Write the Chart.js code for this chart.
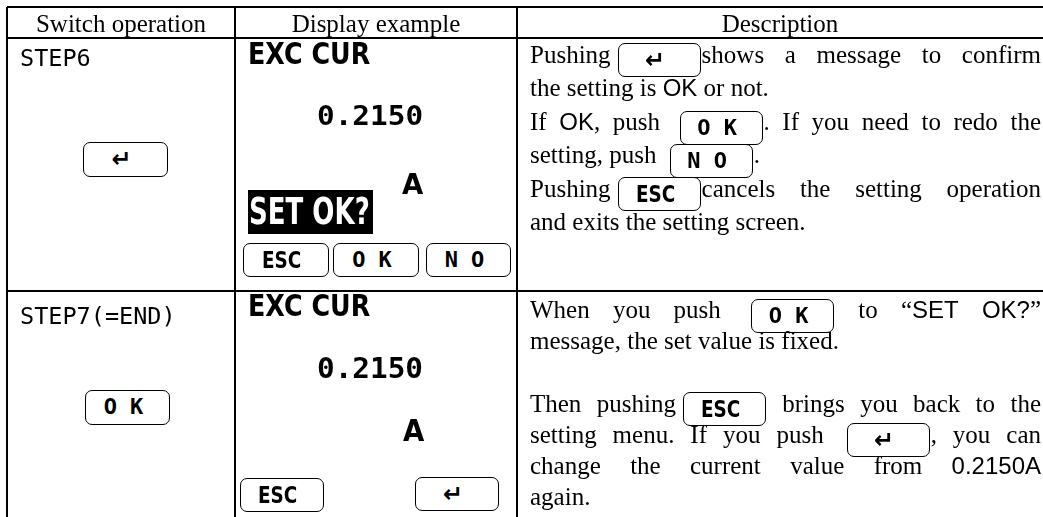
<!DOCTYPE html>
<html>
<head>
<meta charset="utf-8">
<script src="https://cdn.jsdelivr.net/npm/chart.js@4.4.0/dist/chart.umd.min.js"></script>
<style>
html, body { margin: 0; padding: 0; background: #fff; }
#wrap { position: relative; width: 1043px; height: 517px; overflow: hidden; }
#grid { position: absolute; left: 0; top: 0; }
.t { position: absolute; white-space: nowrap; color: #000; }
.hd { top: 7px; line-height: 33px; text-align: center; font-family: "Liberation Serif", "Times New Roman", serif; font-size: 25px; }
.step { font-family: "DejaVu Sans Mono", monospace; font-size: 23.5px; line-height: 1; }
.disp { font-family: "DejaVu Sans", "Liberation Sans", sans-serif; font-weight: bold; line-height: 1; transform-origin: 0 0; }
.disp.mono { font-family: "DejaVu Sans Mono", monospace; }
.band { position: absolute; background: #000; }
.key { position: absolute; box-sizing: border-box; border: 1.6px solid #000; border-radius: 7px; background: #fff;
       text-align: center; padding-right: 8px; line-height: 32px; font-size: 0; }
.lbl { display: inline-block; font-family: "DejaVu Sans", sans-serif; font-weight: bold; font-size: 23px;
       line-height: 32px; transform: scaleX(.8); }
.lbl.mono { font-family: "DejaVu Sans Mono", monospace; transform: none; font-size: 22px; }
.lbl.arrow { transform: none; font-size: 24px; }
.desc { position: absolute; left: 530px; width: 511px; height: 33px; font-family: "Liberation Serif", "Times New Roman", serif;
        font-size: 25px; line-height: 33px; color: #000; }
.desc.just { text-align: justify; text-align-last: justify; }
.ikey { display: inline-block; box-sizing: border-box; width: 83px; height: 34px; border: 1.6px solid #000; border-radius: 7px;
        text-align: center; text-align-last: center; padding-right: 8px; line-height: 32px; vertical-align: -5px;
        margin: -8px 1px -8px 7px; font-size: 0; }
.sans { font-family: "Liberation Sans", Arial, sans-serif; font-size: 24px; }
</style>
</head>
<body>
<div id="wrap">
<canvas id="grid" width="1043" height="517"></canvas>
</div>
<script>
const headers = ["Switch operation", "Display example", "Description"];
const steps = ["STEP6", "STEP7(=END)"];
const switchKeys = ["↵", "O K"];
const displayTitle = "EXC CUR";
const displayValue = "0.2150";
const displayUnit = "A";
const confirmText = "SET OK?";
const softKeys = [["ESC", "O K", "N O"], ["ESC", "↵"]];
// [..] is a key picture, {..} is sans text
const descStep6 = [
  "Pushing[↵]shows a message to confirm",
  "the setting is {OK} or not.",
  "If {OK}, push [O K]. If you need to redo the",
  "setting, push [N O].",
  "Pushing[ESC]cancels the setting operation",
  "and exits the setting screen."
];
const descStep7 = [
  "When you push [O K] to “{SET OK?}”",
  "message, the set value is fixed.",
  "",
  "Then pushing[ESC] brings you back to the",
  "setting menu. If you push [↵], you can",
  "change the current value from {0.2150A}",
  "again."
];

// table rules (page pixels)
const colEdges = [7, 235, 517];
const rowEdges = [7, 38, 291];

new Chart(document.getElementById("grid"), {
  type: "scatter",
  data: { datasets: [] },
  options: {
    responsive: false,
    animation: false,
    devicePixelRatio: 1,
    layout: { padding: { left: 7, top: 7, right: 0, bottom: 0 } },
    plugins: { legend: { display: false }, tooltip: { enabled: false } },
    scales: {
      x: {
        type: "linear", min: 7, max: 1043,
        ticks: { display: false }, border: { display: false },
        grid: { color: "#000", lineWidth: 2, drawTicks: false },
        afterBuildTicks: s => { s.ticks = colEdges.map(v => ({ value: v })); }
      },
      y: {
        type: "linear", reverse: true, min: 7, max: 517,
        ticks: { display: false }, border: { display: false },
        grid: { color: "#000", lineWidth: 2, drawTicks: false },
        afterBuildTicks: s => { s.ticks = rowEdges.map(v => ({ value: v })); }
      }
    }
  }
});

const wrap = document.getElementById("wrap");
const fits = [];

function add(cls, text, css, parent) {
  const d = document.createElement("div");
  d.className = cls;
  d.textContent = text;
  Object.assign(d.style, css);
  (parent || wrap).appendChild(d);
  return d;
}

function keyLabel(label) {
  const s = document.createElement("span");
  s.className = "lbl" + (label === "↵" ? " arrow" : label.includes(" ") ? " mono" : "");
  s.textContent = label;
  return s;
}

function keyBox(label, x, y, w, h) {
  const k = add("key", "", { left: x + "px", top: y + "px", width: w + "px", height: h + "px" });
  k.appendChild(keyLabel(label));
}

// place by cap top, squeeze to the given width
function dispText(text, x, capTop, capH, w, cls, color) {
  const f = capH / 0.729;
  const d = add("t disp " + (cls || ""), text, {
    left: x + "px", top: (capTop - 0.117 * f) + "px", fontSize: f + "px", color: color || "#000"
  });
  fits.push([d, w]);
}

// headers
[[7, 235], [235, 517], [517, 1043]].forEach((c, i) => {
  add("t hd", headers[i], { left: c[0] + "px", width: (c[1] - c[0]) + "px" });
});

// switch column
add("t step", steps[0], { left: "20px", top: "47px" });
add("t step", steps[1], { left: "20px", top: "305px" });
keyBox(switchKeys[0], 83, 142, 85, 35);
keyBox(switchKeys[1], 85, 390, 85, 35);

// display column, step 6
dispText(displayTitle, 248, 43, 22, 122);
dispText(displayValue, 317, 105, 20, 106, "mono");
dispText(displayUnit, 402, 173, 21, 21);
add("band", "", { left: "248px", top: "190px", width: "125px", height: "44px" });
dispText(confirmText, 249, 197, 27, 121, "", "#fff");
keyBox(softKeys[0][0], 243, 243, 86, 34);
keyBox(softKeys[0][1], 333, 243, 86, 34);
keyBox(softKeys[0][2], 426, 243, 85, 34);

// display column, step 7
dispText(displayTitle, 248, 295, 22, 122);
dispText(displayValue, 317, 357, 21, 106, "mono");
dispText(displayUnit, 403, 420, 22, 21);
keyBox(softKeys[1][0], 240, 478, 84, 34);
keyBox(softKeys[1][1], 415, 477, 84, 34);

function descLines(lines, top0, lh) {
  lines.forEach((ln, i) => {
    const d = document.createElement("div");
    d.className = "desc" + (ln === "" || /\.$/.test(ln) ? "" : " just");
    d.style.top = (top0 + i * lh) + "px";
    ln.split(/(\[[^\]]*\]|\{[^}]*\})/).forEach(part => {
      if (!part) return;
      if (part[0] === "[") {
        const k = document.createElement("span");
        k.className = "ikey";
        k.appendChild(keyLabel(part.slice(1, -1)));
        d.appendChild(k);
      } else if (part[0] === "{") {
        const s = document.createElement("span");
        s.className = "sans";
        s.textContent = part.slice(1, -1);
        d.appendChild(s);
      } else {
        d.appendChild(document.createTextNode(part));
      }
    });
    wrap.appendChild(d);
  });
}
descLines(descStep6, 38, 33.4);
descLines(descStep7, 293, 31.2);

document.fonts.ready.then(() => {
  fits.forEach(([d, w]) => { d.style.transform = "scaleX(" + (w / d.offsetWidth) + ")"; });
});
</script>
</body>
</html>
